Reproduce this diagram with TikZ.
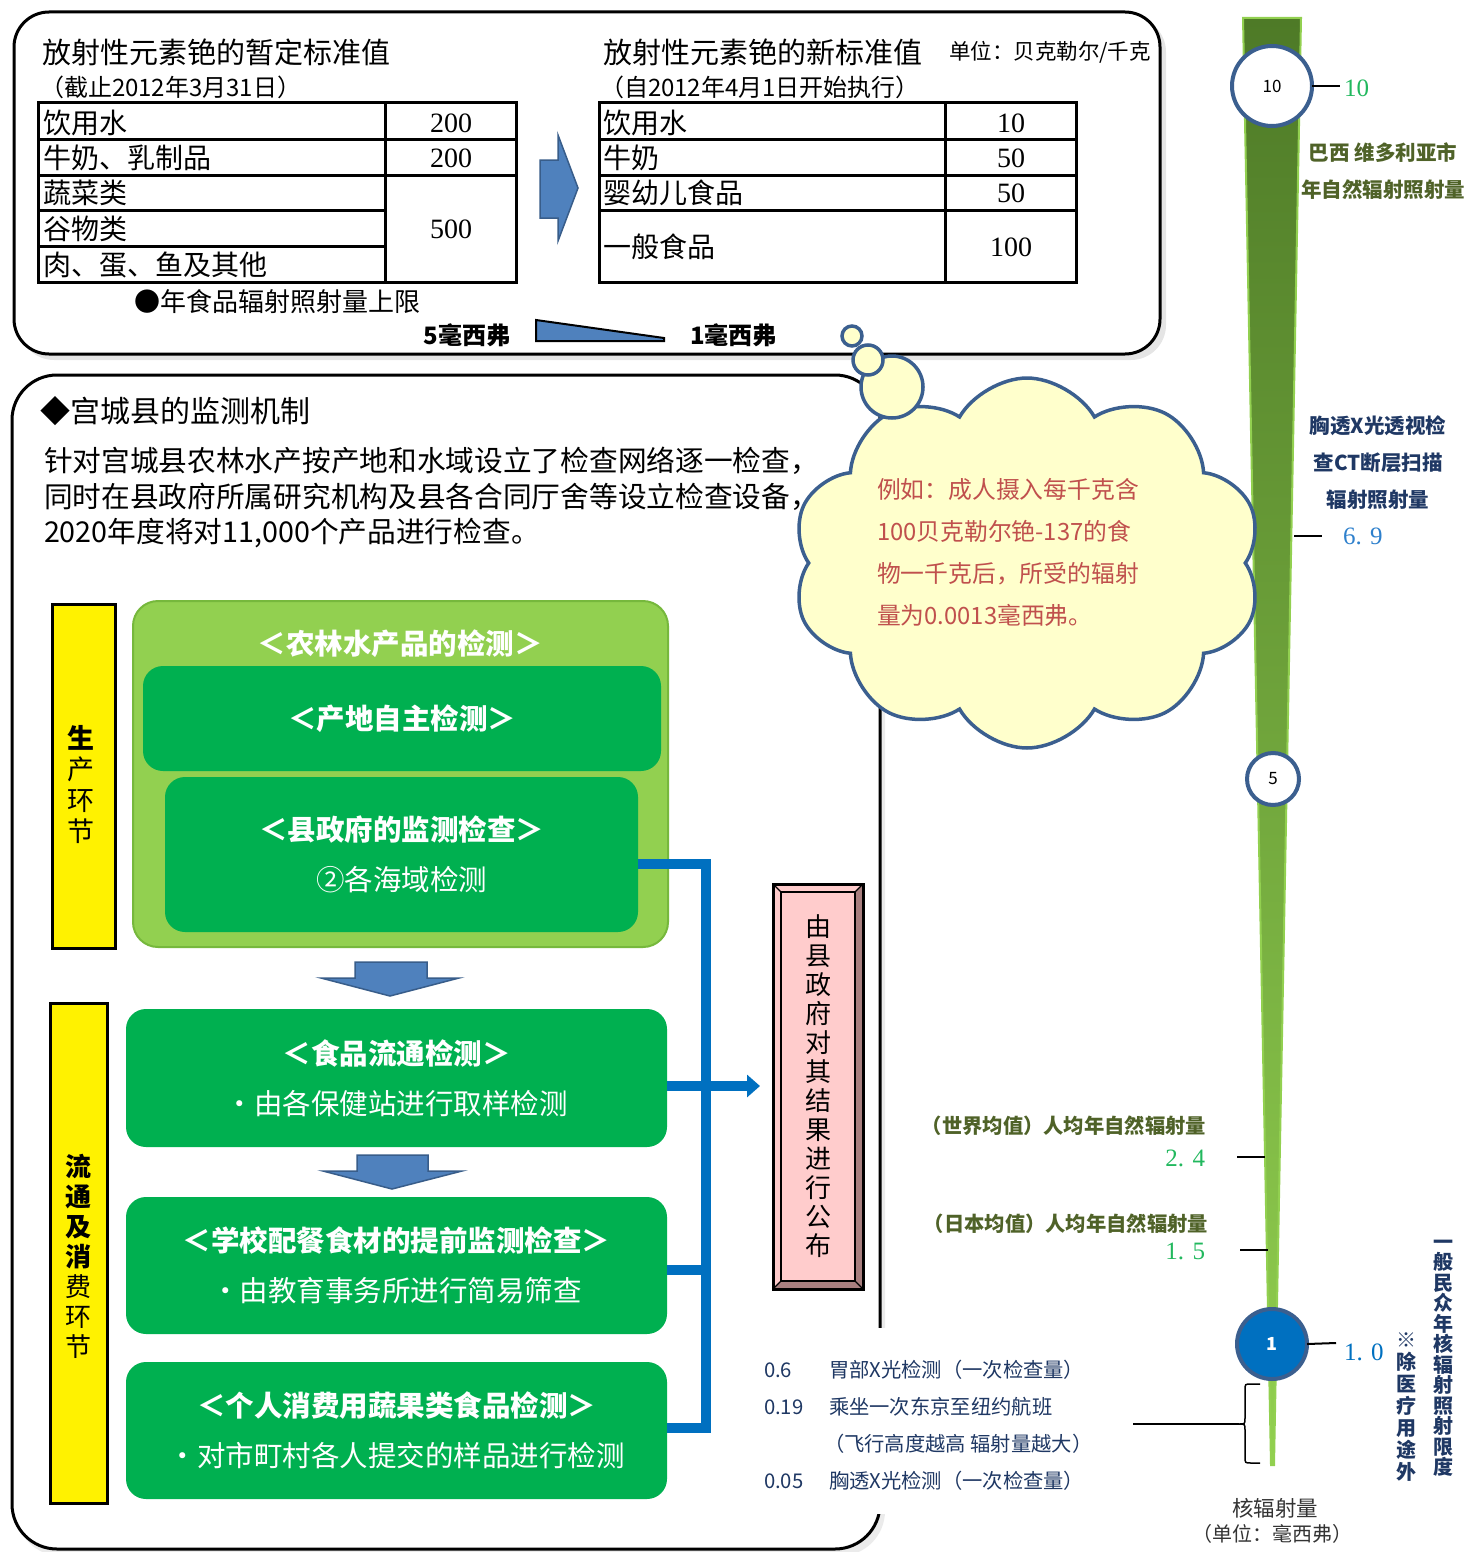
\documentclass[tikz,border=0pt]{standalone}
\usepackage{fontspec}
\setmainfont{Noto Sans CJK SC}
\newfontfamily\sernum{Liberation Serif}
\usetikzlibrary{shapes.symbols,arrows.meta}
\newcommand\fsz[1]{\fontsize{#1}{#1}\selectfont}
\newcommand\fszb[2]{\fontsize{#1}{#2}\selectfont}
\definecolor{gdark}{HTML}{00B050}
\definecolor{glight}{HTML}{92D050}
\definecolor{gedge}{HTML}{76B83C}
\definecolor{arrowblue}{HTML}{4F81BD}
\definecolor{arrowedge}{HTML}{385D8A}
\definecolor{connblue}{HTML}{0070C0}
\definecolor{pinkface}{HTML}{FFCCCC}
\definecolor{pinkbevel}{HTML}{A87F7F}
\definecolor{cloudfill}{HTML}{FFFFCC}
\definecolor{cloudedge}{HTML}{3B5F8F}
\definecolor{cloudtext}{HTML}{C0504D}
\definecolor{olive}{HTML}{4F6228}
\definecolor{navy}{HTML}{1F3864}
\definecolor{numgreen}{HTML}{22B85E}
\definecolor{numblue}{HTML}{2E80CC}
\definecolor{bardark}{HTML}{4E7A27}
\definecolor{barmid}{HTML}{6FA832}
\begin{document}
\begin{tikzpicture}[x=1pt,y=-1pt,
  every node/.style={inner sep=0pt,outer sep=0pt},
  txt/.style={anchor=west},
  tablebox/.style={line width=3pt},
  ybar/.style={draw=black,line width=3pt,fill=yellow,minimum width=#1},
  gbox/.style={fill=gdark,rounded corners=20pt,text=white,align=center,font=\fszb{28.5}{50}},
  blockarrow/.style={fill=arrowblue,draw=arrowedge,line width=1.5pt},
  conn/.style={draw=connblue,line width=10pt},
  dial/.style={circle,draw=cloudedge,line width=4pt,fill=white,font=\fsz{17}},
  tick/.style={line width=2pt,black},
  vtext/.style={align=center},
  puff/.style={draw=cloudedge,fill=cloudfill,line width=3.5pt}]
\useasboundingbox (0,0) rectangle (1471,1552);

% ---------- top box ----------
\fill[black!10,rounded corners=35pt] (19,17) rectangle (1166,360);
\draw[fill=white,line width=3pt,rounded corners=35pt] (14,12) rectangle (1160,354);
\node[txt,font=\fsz{29}] (t1) at (42,52) {放射性元素铯的暂定标准值};
\node[txt,font=\fsz{24}] (t1b) at (40,87) {（截止2012年3月31日）};
% left table
\draw[tablebox] (38,103) rectangle (516,282);
\draw[tablebox] (38,140) -- (516,140) (38,175) -- (516,175)
  (38,210) -- (385,210) (38,246) -- (385,246) (385,103) -- (385,282);
\node[txt,font=\fsz{28}] (l1) at (43,123) {饮用水};
\node[txt,font=\fsz{28}] (l2) at (43,158) {牛奶、乳制品};
\node[txt,font=\fsz{28}] (l3) at (43,193) {蔬菜类};
\node[txt,font=\fsz{28}] (l4) at (43,229) {谷物类};
\node[txt,font=\fsz{28}] (l5) at (43,265) {肉、蛋、鱼及其他};
\node[font=\sernum\fsz{28}] (v1) at (451,123) {200};
\node[font=\sernum\fsz{28}] (v2) at (451,158) {200};
\node[font=\sernum\fsz{28}] (v3) at (451,229) {500};
% right arrow
\draw[blockarrow] (540,160) -- (558,160) -- (558,135) -- (578,188) -- (558,241) -- (558,218) -- (540,218) -- cycle;
% right titles
\node[txt,font=\fsz{29}] (t2) at (603,52) {放射性元素铯的新标准值};
\node[txt,font=\fsz{21.5}] (unit) at (949,52) {单位：贝克勒尔/千克};
\node[txt,font=\fsz{24}] (t2b) at (600,87) {（自2012年4月1日开始执行）};
% right table
\draw[tablebox] (599,103) rectangle (1076,282);
\draw[tablebox] (599,140) -- (1076,140) (599,175) -- (1076,175)
  (599,210) -- (1076,210) (945,103) -- (945,282);
\node[txt,font=\fsz{28}] (r1) at (603,123) {饮用水};
\node[txt,font=\fsz{28}] (r2) at (603,158) {牛奶};
\node[txt,font=\fsz{28}] (r3) at (603,193) {婴幼儿食品};
\node[txt,font=\fsz{28}] (r4) at (603,247) {一般食品};
\node[font=\sernum\fsz{28}] (w1) at (1011,123) {10};
\node[font=\sernum\fsz{28}] (w2) at (1011,158) {50};
\node[font=\sernum\fsz{28}] (w3) at (1011,193) {50};
\node[font=\sernum\fsz{28}] (w4) at (1011,247) {100};
% limit line
\node[txt,font=\fsz{26}] (lim) at (134,302) {●年食品辐射照射量上限};
\node[anchor=east,font=\bfseries\fsz{24}] (m5) at (510,335) {5毫西弗};
\node[txt,font=\bfseries\fsz{24}] (m1) at (690,335) {1毫西弗};
\draw[fill=arrowblue,line width=2pt] (536,320) -- (664,338) -- (664,341) -- (536,341) -- cycle;

% ---------- lower left box ----------
\fill[black!8,rounded corners=45pt] (16,379) rectangle (885,1556);
\draw[fill=white,line width=3pt,rounded corners=45pt] (12,375) rectangle (880,1549);
\node[txt,font=\fsz{30}] (h2) at (40,411) {◆宫城县的监测机制};
\node[txt,font=\fsz{28.7}] (p1) at (44,461) {针对宫城县农林水产按产地和水域设立了检查网络逐一检查，};
\node[txt,font=\fsz{28.7}] (p2) at (44,497) {同时在县政府所属研究机构及县各合同厅舍等设立检查设备，};
\node[txt,font=\fsz{28.7}] (p3) at (44,533) {2020年度将对11,000个产品进行检查。};

% yellow bars
\node[ybar=63pt,minimum height=344pt] (y1) at (83.5,776) {};
\node[vtext,font=\fszb{27}{31}] (y1t) at (81,785) {\textbf{生}\\产\\环\\节};
\node[ybar=57pt,minimum height=500pt] (y2) at (78.5,1253) {};
\node[vtext,font=\fszb{26}{30}] (y2t) at (78,1256) {\textbf{流}\\\textbf{通}\\\textbf{及}\\\textbf{消}\\费\\环\\节};

% production container
\node[fill=glight,draw=gedge,line width=2pt,rounded corners=25pt,minimum width=535pt,minimum height=346pt] (cont) at (400.5,774) {};
\node[text=white,font=\bfseries\fsz{28.5}] (contt) at (400,644) {＜农林水产品的检测＞};
\node[gbox,minimum width=518pt,minimum height=105pt,font=\bfseries\fsz{28.5}] (ba) at (402,718.5) {＜产地自主检测＞};
\node[gbox,minimum width=473pt,minimum height=155pt] (bb) at (401.5,854.5) {\textbf{＜县政府的监测检查＞}\\②各海域检测};

% down arrows
\draw[blockarrow] (355,962) -- (427,962) -- (427,978) -- (459,978) -- (390,996) -- (321,978) -- (355,978) -- cycle;
\draw[blockarrow] (357,1155) -- (428,1155) -- (428,1171) -- (462,1171) -- (392,1189) -- (323,1171) -- (357,1171) -- cycle;

% consumption boxes
\node[gbox,minimum width=541pt,minimum height=138pt] (b3) at (396.5,1078) {\textbf{＜食品流通检测＞}\\・由各保健站进行取样检测};
\node[gbox,minimum width=541pt,minimum height=137pt] (b4) at (396.5,1265.5) {\textbf{＜学校配餐食材的提前监测检查＞}\\・由教育事务所进行简易筛查};
\node[gbox,minimum width=541pt,minimum height=137pt] (b5) at (396.5,1430.5) {\textbf{＜个人消费用蔬果类食品检测＞}\\・对市町村各人提交的样品进行检测};

% pink announcement box
\node[draw=black,line width=3pt,fill=pinkface,minimum width=90pt,minimum height=405pt] (pk) at (818,1086.5) {};
\path (pk.north west) ++(8,8) coordinate (pknw);
\path (pk.south east) ++(-8,-8) coordinate (pkse);
\fill[pinkbevel] (pk.south west) -- (pk.south east) -- (pkse) -- (pkse -| pknw) -- cycle;
\fill[pinkbevel] (pk.north east) -- (pk.south east) -- (pkse) -- (pknw -| pkse) -- cycle;
\draw[line width=1.5pt] (pknw) rectangle (pkse);
\draw[line width=1.2pt] (pk.north west) -- (pknw) (pk.north east) -- (pknw -| pkse)
  (pk.south east) -- (pkse) (pk.south west) -- (pkse -| pknw);
\draw[line width=3pt] (pk.north west) rectangle (pk.south east);
\node[vtext,font=\fszb{26}{29}] (pkt) at (818,1086) {由\\县\\政\\府\\对\\其\\结\\果\\进\\行\\公\\布};

% blue connectors
\coordinate (j1) at (706,864);
\coordinate (j2) at (706,1086);
\coordinate (j3) at (706,1270);
\coordinate (j4) at (706,1428);
\draw[conn] (bb.east |- j1) -- (j1) -- ([yshift=-5pt]j4) ;
\draw[conn] (b3.east |- j2) -- (j2);
\draw[conn] (b4.east |- j3) -- (j3);
\draw[conn] (b5.east |- j4) -- ([xshift=5pt]j4);
\draw[conn,-{Triangle[length=13pt,width=22pt]}] (j2) -- (pk.west |- j2) [shorten >=13pt];

% ---------- right scale bar ----------
\shade[top color=bardark,middle color=barmid,bottom color=glight]
  (1243,18) -- (1301,18) -- (1274,1465) -- (1271,1465) -- cycle;
\draw[glight,line width=2pt] (1243,18) -- (1301,18) -- (1274,1465) -- (1271,1465) -- cycle;

\node[dial,minimum size=80pt] (c10) at (1272,86) {10};
\node[dial,minimum size=52pt] (c5) at (1273,779) {5};
\node[dial,minimum size=70pt,fill=connblue,text=white,font=\bfseries\fsz{18}] (c1) at (1272,1344) {1};

\coordinate (k10) at (1340,86);
\draw[tick] (c10.east) -- (k10);
\node[txt,font=\sernum\fsz{25},text=numgreen] (n10) at (1344,88) {10};
\coordinate (k69a) at (1294,536); \coordinate (k69b) at (1322,536);
\draw[tick] (k69a) -- (k69b);
\node[txt,font=\sernum\fsz{25},text=numblue] (n69) at (1343,536) {6. 9};
\coordinate (k24a) at (1237,1157); \coordinate (k24b) at (1265,1157);
\draw[tick] (k24a) -- (k24b);
\node[anchor=east,font=\sernum\fsz{25},text=numgreen] (n24) at (1205,1158) {2. 4};
\coordinate (k15a) at (1240,1250); \coordinate (k15b) at (1268,1250);
\draw[tick] (k15a) -- (k15b);
\node[anchor=east,font=\sernum\fsz{25},text=numgreen] (n15) at (1205,1251) {1. 5};
\coordinate (k1) at (1336,1343);
\draw[tick] (c1.east) -- (k1);
\node[txt,font=\sernum\fsz{25},text=connblue] (n1) at (1344,1352) {1. 0};

% right labels
\node[font=\bfseries\fsz{20.5},text=olive] (brz1) at (1383,153) {巴西\ 维多利亚市};
\node[font=\bfseries\fsz{20.5},text=olive] (brz2) at (1383,190) {年自然辐射照射量};
\node[font=\bfseries\fsz{20.5},text=navy] (ct1) at (1378,426) {胸透X光透视检};
\node[font=\bfseries\fsz{20.5},text=navy] (ct2) at (1378,463) {查CT断层扫描};
\node[font=\bfseries\fsz{20.5},text=navy] (ct3) at (1378,500) {辐射照射量};
\node[anchor=east,font=\bfseries\fsz{20.3},text=olive] (wld) at (1206,1126) {（世界均值）人均年自然辐射量};
\node[anchor=east,font=\bfseries\fsz{20.3},text=olive] (jpn) at (1208,1224) {（日本均值）人均年自然辐射量};

% ---------- thought cloud ----------
\node[cloud,cloud puffs=10,cloud puff arc=120,cloud ignores aspect,
  draw=cloudedge,fill=cloudfill,line width=3.5pt,
  minimum width=470pt,minimum height=370pt] (cl) at (1027,563) {};
\draw[puff] (892,387) circle (31);
\draw[puff] (868,360) circle (15);
\draw[puff] (852,336) circle (10);
\node[anchor=north west,align=left,text=cloudtext,font=\fszb{23.8}{42}] (clt) at (877,478)
  {例如：成人摄入每千克含\\100贝克勒尔铯-137的食\\物一千克后，所受的辐射\\量为0.0013毫西弗。};

% ---------- medical exposure list ----------
\fill[white] (748,1328) rectangle (1128,1514);
\node[txt,font=\fsz{20.3},text=navy] (e1) at (764,1370) {0.6};
\node[txt,font=\fsz{20.3},text=navy] (e1t) at (829,1370) {胃部X光检测（一次检查量）};
\node[txt,font=\fsz{20.3},text=navy] (e2) at (764,1407) {0.19};
\node[txt,font=\fsz{20.3},text=navy] (e2t) at (829,1407) {乘坐一次东京至纽约航班};
\node[txt,font=\fsz{20.3},text=navy] (e2b) at (824,1444) {（飞行高度越高\ 辐射量越大）};
\node[txt,font=\fsz{20.3},text=navy] (e3) at (764,1481) {0.05};
\node[txt,font=\fsz{20.3},text=navy] (e3t) at (829,1481) {胸透X光检测（一次检查量）};
\coordinate (brL) at (1133,1424);
\coordinate (brM) at (1239,1424);
\draw[line width=1.5pt] (brL) -- (brM);
\draw[line width=1.5pt] (1260,1384) -- (1251,1384) .. controls (1245,1384) .. (1245,1390) -- (1245,1418)
  .. controls (1245,1424) .. (brM) .. controls (1245,1424) .. (1245,1430) -- (1245,1457)
  .. controls (1245,1463) .. (1251,1463) -- (1260,1463);

\node[font=\fsz{21.5},text=black!80] (ax1) at (1275,1508) {核辐射量};
\node[font=\fsz{20},text=black!80] (ax2) at (1272,1534) {（单位：毫西弗）};

\node[vtext,font=\bfseries\fszb{20}{20.5},text=navy] (lim1) at (1443,1358) {一\\般\\民\\众\\年\\核\\辐\\射\\照\\射\\限\\度};
\node[vtext,font=\bfseries\fszb{20}{22}] (lim2) at (1406,1407) {\textcolor{navy}{※}\\\textcolor{navy}{除}\\\textcolor{navy}{医}\\\textcolor{navy}{疗}\\\textcolor{navy}{用}\\\textcolor{navy}{途}\\\textcolor{navy}{外}};
\end{tikzpicture}
\end{document}
